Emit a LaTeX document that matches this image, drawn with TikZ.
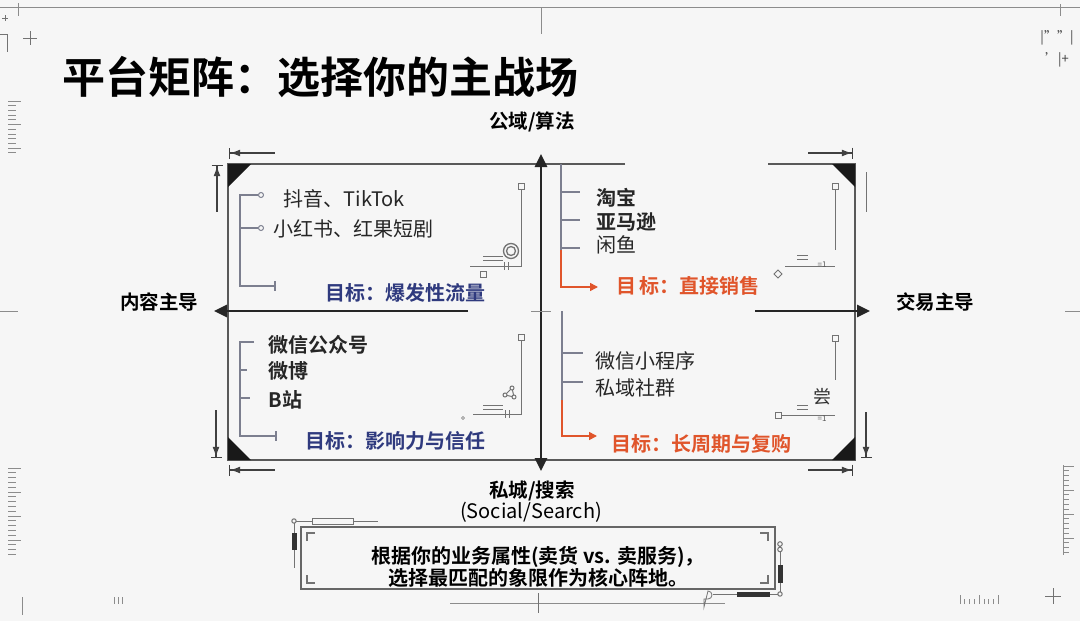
\documentclass[tikz,border=0pt]{standalone}
\usepackage{fontspec}
\setmainfont{Noto Sans CJK SC}[BoldFont={Noto Sans CJK SC Bold}]
\usetikzlibrary{arrows.meta, positioning, calc}
\definecolor{goalblue}{HTML}{2F3A7E}
\definecolor{goalorange}{HTML}{E0552B}
\definecolor{brkgray}{HTML}{7C7F8F}
\definecolor{paper}{HTML}{F6F6F6}

\begin{document}
\begin{tikzpicture}[x=1pt, y=-1pt, font=\fontsize{20}{24}\selectfont,
    axisline/.style={line width=2.6pt, black!85},
    frameline/.style={line width=1.4pt, black!65},
    bracket/.style={line width=1.6pt, brkgray},
    goalarrow/.style={line width=1.6pt, goalorange, -{Triangle[length=8pt,width=8pt]}},
    dimarrow/.style={line width=1.2pt, black!75, {Bar[width=11pt]Latex[length=10pt,width=7pt]}-},
    deco/.style={line width=1pt, black!55},
    ruler/.style={line width=0.8pt, black!45},
    item/.style={anchor=west, text=black!85},
    bolditem/.style={item, font=\bfseries\fontsize{20}{24}\selectfont},
    axislabel/.style={font=\bfseries\fontsize{19.5}{24}\selectfont},
    goal/.style={font=\bfseries\fontsize{20}{24}\selectfont},
    tiny/.style={font=\fontsize{8}{9}\selectfont, text=black!65, inner sep=0pt}]
    \useasboundingbox (0,0) rectangle (1080,621);
    \fill[paper] (0,0) rectangle (1080,621);

    % margin marks
    \draw[ruler] (0,7) -- (1080,7);
    \draw[ruler] (18,3) -- (18,16) (541,7) -- (541,34) (1060,4) -- (1060,16);
    \draw[deco] (2,18) -- (8,18) (5,15) -- (5,21);
    \draw[deco] (0,34) -- (7,34) -- (7,52);
    \draw[deco] (23,38) -- (37,38) (30,31) -- (30,45);
    \node[font=\fontsize{13}{13}\selectfont, text=black!75] (markA) at (1057,38) {|\symbol{34}\symbol{34}|};
    \node[font=\fontsize{13}{13}\selectfont, text=black!75] (markB) at (1057,60) {\symbol{39}|+};
    \foreach \i in {0,...,11} {
        \pgfmathsetmacro\len{mod(\i,5)==0 ? 13 : 8}
        \draw[ruler] (8,101+\i*4.7) -- ++(\len,0);
    }
    \foreach \i in {0,...,18} {
        \pgfmathsetmacro\len{mod(\i,5)==0 ? 13 : 8}
        \draw[ruler] (8,468+\i*4.8) -- ++(\len,0);
    }
    \draw[ruler] (1063,465) -- (1063,555);
    \foreach \i in {0,...,18} {
        \pgfmathsetmacro\len{mod(\i,5)==0 ? 11 : 6}
        \draw[ruler] (1063,466+\i*4.8) -- ++(\len,0);
    }
    \foreach \i in {0,...,8} {
        \pgfmathsetmacro\len{mod(\i,4)==0 ? 9 : 5}
        \draw[ruler] (960+\i*4.8,604) -- ++(0,-\len);
    }
    \draw[ruler] (0,311) -- (18,311) (1065,311) -- (1080,311);
    \draw[ruler] (22,597) -- (22,615) (114,597) -- (114,604) (118,597) -- (118,604) (122,597) -- (122,604);
    \draw[deco] (1045,596) -- (1061,596) (1053,588) -- (1053,604);

    % title
    \node[anchor=west, font=\bfseries\fontsize{43}{48}\selectfont] (title) at (59,77) {平台矩阵：选择你的主战场};

    % quadrant frame
    \draw[frameline] (625,164) -- (228,164) -- (228,460) -- (855,460) -- (855,164) -- (768,164);
    \fill[black!90] (228,164) -- (251,164) -- (228,187) -- cycle;
    \fill[black!90] (855,164) -- (832,164) -- (855,187) -- cycle;
    \fill[black!90] (228,460) -- (228,437) -- (251,460) -- cycle;
    \fill[black!90] (855,460) -- (855,437) -- (832,460) -- cycle;

    % dimension marks
    \draw[dimarrow] (229,153) -- (275,153);
    \draw[dimarrow] (217,165) -- (217,212);
    \draw[dimarrow] (853,153) -- (808,153);
    \draw[deco] (866,172) -- (866,212);
    \draw[dimarrow] (216,458) -- (216,410);
    \draw[dimarrow] (229,470) -- (275,470);
    \draw[dimarrow] (866,458) -- (866,412);
    \draw[dimarrow] (853,470) -- (808,470);

    % axes
    \coordinate (N) at (541,154);
    \coordinate (S) at (541,471);
    \coordinate (W) at (214,311);
    \coordinate (E) at (870,311);
    \draw[axisline, {Triangle[length=13pt,width=12pt]}-{Triangle[length=13pt,width=12pt]}] (N) -- (S);
    \draw[axisline, -{Triangle[length=13pt,width=12pt]}] (468,311) -- (W);
    \draw[axisline, -{Triangle[length=13pt,width=12pt]}] (755,311) -- (E);
    \draw[ruler] (531,311) -- (551,311);
    \node[axislabel] (pub) at (532,122) {公域/算法};
    \node[axislabel] (content) at (159,302) {内容主导};
    \node[axislabel] (trade) at (935,302) {交易主导};
    \node[axislabel] (priv) at (532,491) {私城/搜索};
    \node (social) at (531,512) {(Social/Search)};

    % top left: content x public
    \draw[bracket] (258,195) -- (240,195) -- (240,286) -- (275,286);
    \draw[bracket] (275,281) -- (275,291);
    \draw[bracket] (240,228) -- (258,228);
    \draw[brkgray, line width=1pt, fill=paper] (261,195) circle (2.5) (261,228) circle (2.5);
    \node[item] (douyin) at (280,199) {抖音、TikTok};
    \node[item] (xhs) at (270,229) {小红书、红果短剧};
    \node[goal, text=goalblue] (gTL) at (405,293) {目标：爆发性流量};
    \draw[deco] (521,189) -- (521,266) -- (470,266);
    \draw[deco] (518,183) rectangle (524,189);
    \draw[deco, line width=1.3pt] (511,251) circle (7.5) (511,251) circle (4.5);
    \draw[deco] (483,256) -- (503,256) (483,260) -- (503,260);
    \draw[deco] (504,262) -- (504,270) (508,262) -- (508,270);
    \draw[deco] (480,271) rectangle (486,277);

    % top right: trade x public
    \draw[bracket] (561,164) -- (561,250);
    \draw[goalarrow] (561,250) -- (561,287) -- (598,287);
    \foreach \y in {192,220,248} \draw[bracket] (561,\y) -- (580,\y);
    \node[bolditem] (taobao) at (593,198) {淘宝};
    \node[bolditem] (amazon) at (593,222) {亚马逊};
    \node[item] (xianyu) at (593,245) {闲鱼};
    \node[goal, text=goalorange] (gTR) at (688,286) {目\,标：直接销售};
    \draw[deco] (835,189) -- (835,250);
    \draw[deco] (832,183) rectangle (838,189);
    \draw[deco] (797,255) -- (808,255) (797,259) -- (808,259);
    \draw[deco] (785,266) -- (835,266);
    \node[tiny] (eqA) at (822,265) {=1};
    \draw[deco] (778,270) -- (782,274) -- (778,278) -- (774,274) -- cycle;

    % bottom left: content x private
    \draw[bracket] (254,342) -- (240,342) -- (240,436) -- (276,436);
    \draw[bracket] (276,431) -- (276,441);
    \draw[bracket] (240,370) -- (247,370) (240,398) -- (250,398);
    \node[bolditem] (wxgzh) at (265,345) {微信公众号};
    \node[bolditem] (weibo) at (265,371) {微博};
    \node[bolditem] (bili) at (265,400) {B站};
    \node[goal, text=goalblue] (gBL) at (395,441) {目标：影响力与信任};
    \draw[deco] (521,340) -- (521,414) -- (473,414);
    \draw[deco] (518,334) rectangle (524,340);
    \draw[deco] (505,395) -- (512,388) -- (514,397) -- cycle;
    \draw[deco, fill=paper] (505,395) circle (2) (512,388) circle (2) (514,397) circle (2);
    \draw[deco] (483,405) -- (503,405) (483,409) -- (503,409);
    \draw[deco] (505,410) -- (505,418) (509,410) -- (509,418);
    \draw[deco, line width=0.6pt] (463,418) circle (1.5);

    % bottom right: trade x private
    \draw[bracket] (562,311) -- (562,400);
    \draw[goalarrow] (562,400) -- (562,436) -- (597,436);
    \foreach \y in {353,382} \draw[bracket] (562,\y) -- (583,\y);
    \node[item] (mini) at (592,361) {微信小程序};
    \node[item] (group) at (592,388) {私域社群};
    \node[goal, text=goalorange] (gBR) at (701,444) {目标：长周期与复购};
    \draw[deco] (835,341) -- (835,380);
    \draw[deco] (832,335) rectangle (838,341);
    \node[font=\fontsize{18}{18}\selectfont, text=black!80, inner sep=0pt] (chang) at (822,397) {尝};
    \draw[deco] (797,405) -- (808,405) (797,409) -- (808,409);
    \draw[deco] (781,415) -- (835,415);
    \draw[deco, fill=paper] (775,412) rectangle (781,418);
    \node[tiny] (eqB) at (822,419) {=1};

    % note box
    \draw[line width=1.2pt, black!60] (301,527) rectangle (775,589);
    \draw[deco, line width=1.3pt] (307,541) -- (307,533) -- (315,533)
        (760,533) -- (768,533) -- (768,541)
        (307,575) -- (307,583) -- (315,583)
        (760,583) -- (768,583) -- (768,575);
    \node[align=center, font=\bfseries\fontsize{20}{22}\selectfont] (note) at (538,567) {根据你的业务属性(卖货 vs. 卖服务)，\\选择最匹配的象限作为核心阵地。};
    \draw[deco] (296,521) -- (312,521) (353,521) -- (378,521);
    \draw[deco] (312,518) rectangle (353,524);
    \draw[deco, fill=paper] (294,521) circle (2.2);
    \draw[deco] (294,523) -- (294,568);
    \fill[black!80] (291.5,533) rectangle (296.5,550);
    \draw[deco] (780,544) circle (2.3) (780,549.5) circle (2.3);
    \draw[deco] (780,552) -- (780,592);
    \fill[black!80] (777.5,565) rectangle (782.5,583);
    \draw[deco, fill=paper] (780,594) circle (2.2);
    \draw[deco] (778,594) -- (713,594);
    \fill[black!80] (737,591.5) rectangle (770,596.5);
    \draw[ruler] (450,603) -- (725,603);
    \draw[deco, line width=0.8pt] (704,599) -- (708,599) arc (90:-90:4) -- (704,607) -- cycle;
    \draw[deco] (538,593) -- (538,613);
\end{tikzpicture}
\end{document}
